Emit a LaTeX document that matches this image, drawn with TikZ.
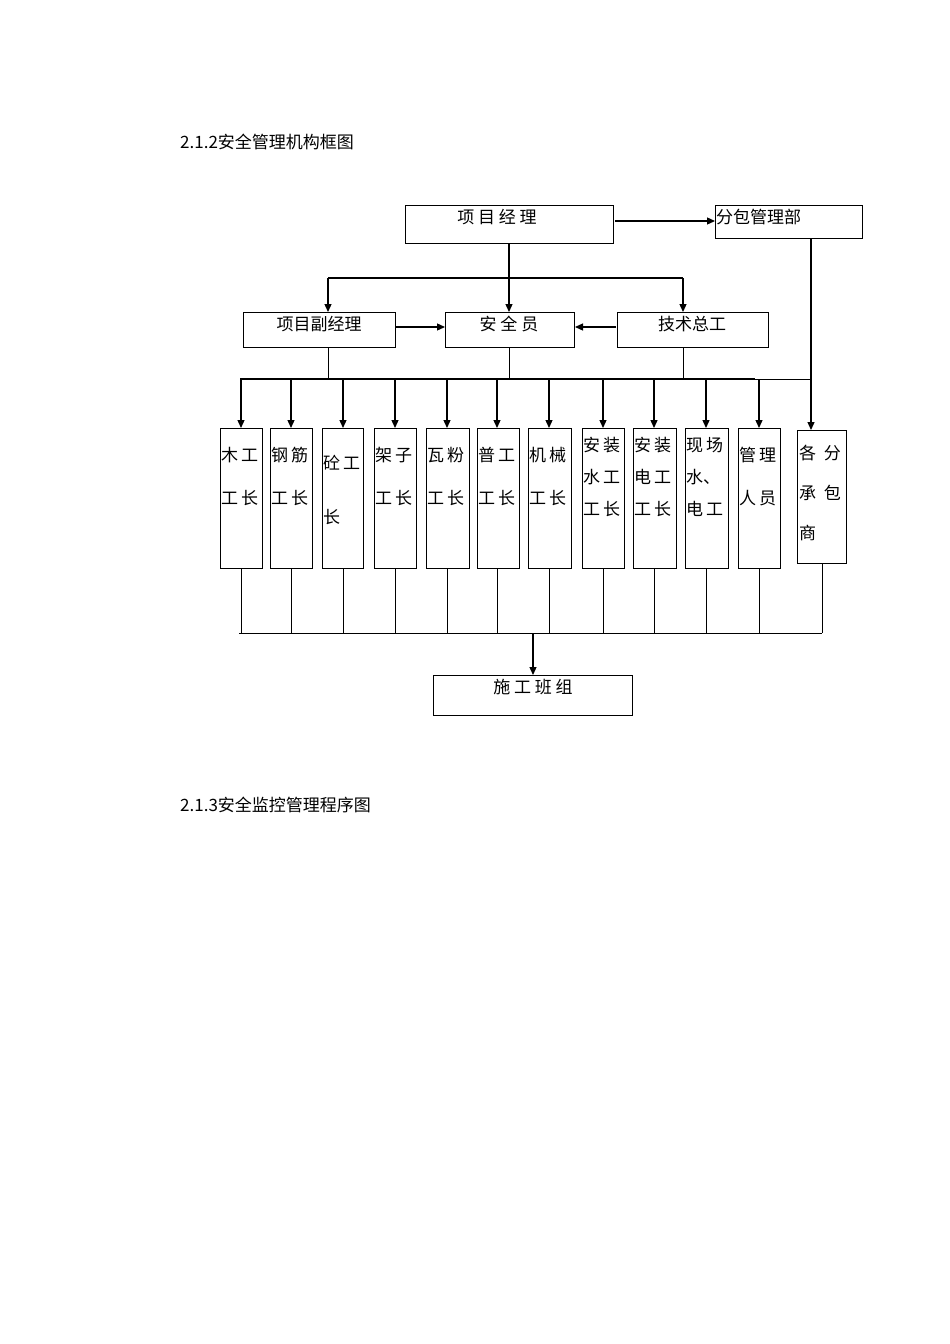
\documentclass[tikz,border=0pt]{standalone}
\usepackage{fontspec}
\newfontfamily\cjk{Noto Sans CJK SC}
\usetikzlibrary{arrows.meta}
\begin{document}
\begin{tikzpicture}[x=1pt,y=-1pt,
  box/.style={draw,line width=1pt},
  lbl/.style={font=\cjk\fontsize{17}{17}\selectfont,inner sep=0pt},
  arr/.style={line width=1.3pt,-{Triangle[length=8pt,width=7pt]}},
  thin/.style={line width=0.7pt}]
\useasboundingbox (0,0) rectangle (950,1344);
\node[lbl,anchor=west] (t1) at (180,142) {2.1.2安全管理机构框图};
\node[lbl,anchor=west] (t2) at (180,805) {2.1.3安全监控管理程序图};
% top boxes
\draw[box] (405,205) rectangle (613,243); \coordinate (pm) at (509,243);
\node[lbl] (pmt) at (497,217) {项\ 目\ 经\ 理};
\draw[box] (715,205) rectangle (862,238);
\node[lbl,anchor=west] (fbt) at (716,217) {分包管理部};
\draw[box] (243,312) rectangle (395,347);
\node[lbl] (fjt) at (319,324) {项目副经理};
\draw[box] (445,312) rectangle (574,347);
\node[lbl] (aqt) at (509,324) {安\ 全\ 员};
\draw[box] (617,312) rectangle (768,347);
\node[lbl] (jst) at (692,324) {技术总工};
\coordinate (pmr) at (615,221); \coordinate (fbl) at (715,221);
\draw[arr] (pmr) -- (fbl);
\coordinate (aqtop) at (509,312);
\draw[arr] (pm) -- (aqtop);
\coordinate (b1) at (328,278); \coordinate (b2) at (683,278);
\draw[line width=1.3pt] (b1) -- (b2);
\draw[arr] (b1) -- (328,312);
\draw[arr] (b2) -- (683,312);
\draw[arr] (396,327) -- (445,327);
\draw[arr] (616,327) -- (575,327);
% bus
\draw[thin] (328,347) -- (328,379) (509,347) -- (509,379) (683,347) -- (683,379);
\draw[line width=1.6pt] (240,379) -- (755,379);
\draw[thin] (755,379) -- (811,379);
\draw[arr] (811,238) -- (811,430);
% small boxes
\foreach \a/\b/\c in {220/262/241,270/312/291,322/363/343,374/416/395,426/469/447,477/519/497,528/571/549,582/624/603,633/676/654,685/728/706,738/780/759}{
  \draw[arr] (\c,379) -- (\c,428);
  \draw[box] (\a,428) rectangle (\b,568);
  \draw[thin] (\c,568) -- (\c,633);
}
\draw[box] (797,430) rectangle (846,563);
\draw[thin] (822,563) -- (822,633);
\def\tb#1#2#3{\node[lbl,anchor=north west,align=left,font=\cjk\fontsize{17}{#2}\selectfont] at (#1,447) {#3};}
\tb{221}{43}{木\,工\\工\,长}
\tb{271}{43}{钢\,筋\\工\,长}
\node[lbl,anchor=north west,align=left,font=\cjk\fontsize{17}{54}\selectfont] at (323,455) {砼\,工\\长};
\tb{375}{43}{架\,子\\工\,长}
\tb{427}{43}{瓦\,粉\\工\,长}
\tb{478}{43}{普\,工\\工\,长}
\tb{529}{43}{机\,械\\工\,长}
\node[lbl,anchor=north west,align=left,font=\cjk\fontsize{17}{32}\selectfont] at (583,437) {安\,装\\水\,工\\工\,长};
\node[lbl,anchor=north west,align=left,font=\cjk\fontsize{17}{32}\selectfont] at (634,437) {安\,装\\电\,工\\工\,长};
\node[lbl,anchor=north west,align=left,font=\cjk\fontsize{17}{32}\selectfont] at (686,437) {现\,场\\水、\\电\,工};
\tb{739}{43}{管\,理\\人\,员}
\node[lbl,anchor=north west,align=left,font=\cjk\fontsize{17}{40}\selectfont] at (799,445) {各\ \ 分\\承\ \ 包\\商};
% bottom
\draw[line width=1pt] (239,633) -- (822,633);
\draw[box] (433,675) rectangle (632,715);
\node[lbl] (sg) at (533,687) {施\ 工\ 班\ 组};
\draw[arr] (533,633) -- (533,675);
\end{tikzpicture}
\end{document}
